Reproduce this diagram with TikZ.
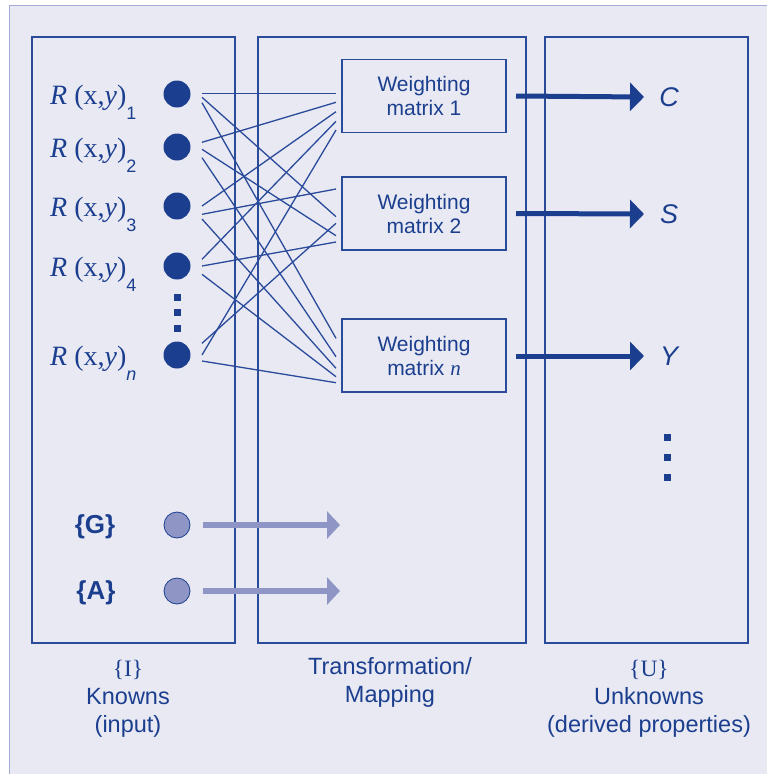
\documentclass[tikz,border=0pt]{standalone}
\usepackage{fontspec}
\setmainfont{Liberation Serif}
\setsansfont{Liberation Sans}
\usetikzlibrary{arrows.meta}
\definecolor{bgc}{HTML}{E9E9F4}
\definecolor{navy}{HTML}{1B3F8E}
\definecolor{linec}{HTML}{2A4A9A}
\definecolor{lightc}{HTML}{8F96C6}
\definecolor{framec}{HTML}{A3ABD9}
\begin{document}
\begin{tikzpicture}[x=1pt,y=-1pt,
 panel/.style={draw=linec, line width=1.2pt},
 wbox/.style={draw=linec, line width=1.2pt, minimum width=164pt, minimum height=73pt, inner sep=0pt, align=center, font=\fontsize{21}{24}\selectfont\sffamily, text=navy},
 dot/.style={circle, fill=navy, minimum size=27pt, inner sep=0pt},
 ldot/.style={circle, fill=lightc, draw=navy, line width=0.8pt, minimum size=26pt, inner sep=0pt},
 sq/.style={fill=navy, minimum size=7pt, inner sep=0pt},
 wire/.style={draw=linec, line width=1.3pt},
 bigarrow/.style={draw=navy, line width=5pt, -{Triangle[length=14pt,width=28pt]}},
 lightarrow/.style={draw=lightc, line width=5.5pt, -{Triangle[length=13pt,width=27pt]}},
 rlabel/.style={anchor=base west, text=navy, font=\fontsize{28}{28}\selectfont, inner sep=0pt},
 outlabel/.style={text=navy, font=\fontsize{27}{27}\selectfont\sffamily\itshape, inner sep=0pt},
 setlabel/.style={text=navy, font=\fontsize{26}{26}\selectfont\sffamily\bfseries, inner sep=0pt},
 caption/.style={text=navy, align=center, font=\fontsize{23.5}{28}\selectfont\sffamily, inner sep=0pt}
]
\useasboundingbox (0,0) rectangle (766,774);
\fill[white] (0,0) rectangle (766,774);
\filldraw[fill=bgc, draw=framec, line width=1.5pt] (9.5,5.7) rectangle (790,800);

% panels
\draw[panel] (32,37) rectangle (235,643);
\draw[panel] (258,37) rectangle (526,643);
\draw[panel] (545,37) rectangle (748,643);

% weighting boxes
\node[wbox] (w1) at (424,96) {Weighting\\matrix 1};
\node[wbox] (w2) at (424,213.5) {Weighting\\matrix 2};
\node[wbox] (wn) at (424,355.5) {Weighting\\matrix {\rmfamily\itshape n}};

% input dots
\node[dot] (d1) at (177,94) {};
\node[dot] (d2) at (177,147) {};
\node[dot] (d3) at (177,206) {};
\node[dot] (d4) at (177,266) {};
\node[dot] (dn) at (177,355) {};
\node[sq] (e1) at (177,297) {};
\node[sq] (e2) at (177,312.5) {};
\node[sq] (e3) at (177,328) {};

% labels R(x,y)_i
\foreach \i/\y/\s in {1/94/1, 2/147/2, 3/206/3, 4/266/4, n/355/{\itshape n}}{
  \node[rlabel] (r\i) at (50,\y+10) {\textit{R} (x,\textit{y})\raisebox{-15pt}{\sffamily\fontsize{18}{18}\selectfont \s}};
}

% wires
\foreach \n/\ya/\yb in {11/93.7/93.7, 12/97.3/216.7, 13/102.7/338.3,
  21/142.3/102.3, 22/149.3/235.7, 23/157.7/356.7,
  31/206/111.7, 32/214.3/189, 33/219/368.3,
  41/259.3/121.3, 42/266/242, 43/274.3/376.7,
  51/343.3/223.3, 52/355/130, 53/361/382.7}{
  \coordinate (s\n) at (202,\ya);
  \coordinate (t\n) at (336,\yb);
  \draw[wire] (s\n) -- (t\n);
}

% outputs
\node[outlabel] (oc) at (669,97) {C};
\node[outlabel] (os) at (669,214) {S};
\node[outlabel] (oy) at (669,356) {Y};
\coordinate (a1) at (516,96);
\coordinate (a2) at (516,213.5);
\coordinate (a3) at (516,356);
\draw[bigarrow] (a1) -- (oc.west -| 644,0);
\draw[bigarrow] (a2) -- (os.west -| 644,0);
\draw[bigarrow] (a3) -- (oy.west -| 644,0);
\node[sq] (f1) at (667,437) {};
\node[sq] (f2) at (667,457) {};
\node[sq] (f3) at (667,477) {};

% G and A
\node[ldot] (g) at (177,525) {};
\node[ldot] (a) at (177,591) {};
\node[setlabel] (gl) at (95,527) {\{G\}};
\node[setlabel] (al) at (96,593) {\{A\}};
\coordinate (gt) at (340,525);
\coordinate (at) at (340,591);
\draw[lightarrow] ([xshift=13pt]g.east) -- (gt);
\draw[lightarrow] ([xshift=13pt]a.east) -- (at);

% captions
\node[caption] (c1) at (128,699) {{\rmfamily\{I\}}\\Knowns\\(input)};
\node[caption, anchor=north] (c2) at (390,657) {Transformation/\\Mapping};
\node[caption] (c3) at (649,699) {{\rmfamily\{U\}}\\Unknowns\\(derived properties)};
\end{tikzpicture}
\end{document}
